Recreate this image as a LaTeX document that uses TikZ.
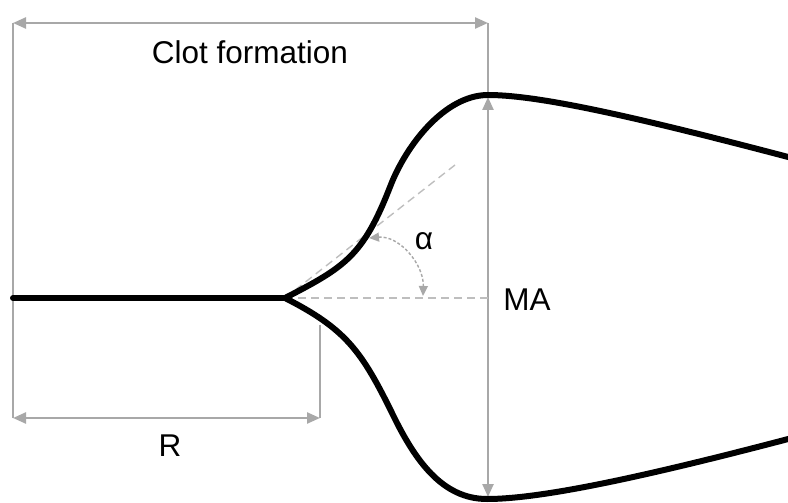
\documentclass[tikz,border=0pt]{standalone}
\usepackage{fontspec}
\setmainfont{Liberation Sans}
\usetikzlibrary{arrows.meta}
\definecolor{dimgray}{RGB}{168,168,168}
\definecolor{dashgray}{RGB}{190,190,190}
\begin{document}
\begin{tikzpicture}[x=1pt,y=-1pt,
  trace/.style={line width=6pt,black,line cap=round},
  dimline/.style={line width=2.4pt,dimgray},
  dimarrow/.style={dimline,{Triangle[length=13pt,width=11pt]}-{Triangle[length=13pt,width=11pt]}},
  guide/.style={line width=1.4pt,dashgray,dash pattern=on 8pt off 5pt},
  angarrow/.style={line width=1.4pt,dimgray,dash pattern=on 3pt off 2pt,
     {Triangle[length=10pt,width=9pt]}-{Triangle[length=10pt,width=9pt]}},
  lbl/.style={font=\fontsize{31.5}{36}\selectfont,inner sep=0pt}]
\useasboundingbox (0,0) rectangle (788,503);

% key points of the trace
\coordinate (start) at (13,298);
\coordinate (split) at (285,298);
\coordinate (top) at (488,95);
\coordinate (bot) at (487,499);
\coordinate (endU) at (792,158);
\coordinate (endL) at (792,438);

% dimension anchors
\coordinate (cfL) at (13,23);
\coordinate (cfR) at (488,23);
\coordinate (rL) at (13,418);
\coordinate (rR) at (320,418);
\coordinate (rTop) at (320,325);
\coordinate (maT) at (488,97);
\coordinate (maB) at (488,497);

% angle guides
\coordinate (tanEnd) at (455,165);
\coordinate (horEnd) at (488,298);
\coordinate (angA) at (369,238);
\coordinate (angB) at (423,296);

% extension lines
\draw[dimline] (cfL) -- (rL);
\draw[dimline] (cfR) -- (maT);
\draw[dimline] (rTop) -- (rR);

% dimension arrows
\draw[dimarrow] (cfL) -- (cfR);
\draw[dimarrow] (rL) -- (rR);
\draw[dimarrow] (maT) -- (maB);

% angle guides
\draw[guide] (split) -- (tanEnd);
\draw[guide] (split) -- (horEnd);
\draw[angarrow] (angA) to[out=5,in=88] (angB);

% trace: stem and the two branches
\draw[trace] (start) -- (split);
\draw[trace] (split) .. controls (345,267) and (363,256) .. (390,187)
   .. controls (406,145) and (445,95) .. (top)
   .. controls (540,95) and (640,118) .. (endU);
\draw[trace] (split) .. controls (345.8,329) and (361.5,350.6) .. (393,415)
   .. controls (415,460) and (442,499) .. (bot)
   .. controls (540,499) and (640,478) .. (endL);

% labels
\node[lbl] (cf) at (250,52) {Clot formation};
\node[lbl] (rlab) at (170,446) {R};
\node[lbl] (malab) at (527,300) {MA};
\node[lbl] (alab) at (424,241) {α};
\end{tikzpicture}
\end{document}
